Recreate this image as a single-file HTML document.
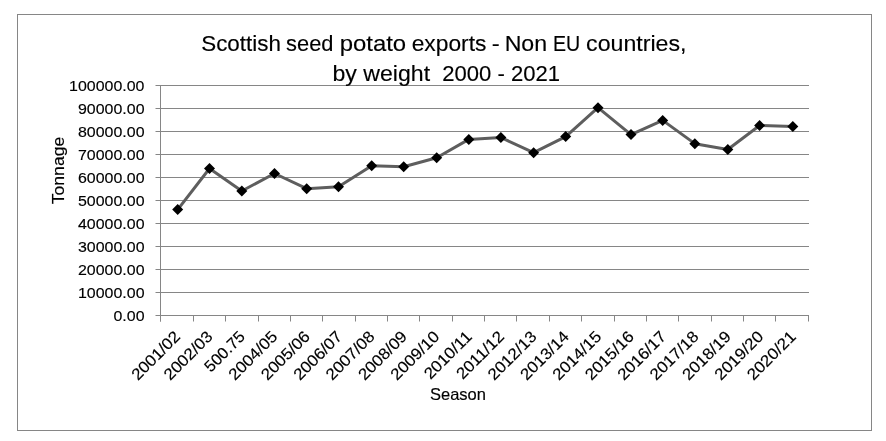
<!DOCTYPE html><html><head><meta charset="utf-8"><style>html,body{margin:0;padding:0;background:#fff;}svg{display:block;will-change:transform;}text{font-family:"Liberation Sans",sans-serif;fill:#000;stroke:#000;stroke-width:0.15px;}</style></head><body>
<svg width="886" height="441" viewBox="0 0 886 441">
<rect x="0" y="0" width="886" height="441" fill="#fff"/>
<rect x="17.5" y="14.5" width="854" height="416" fill="none" stroke="#868686" stroke-width="1"/>
<path d="M155.5 85.5H809 M155.5 108.5H809 M155.5 131.5H809 M155.5 154.5H809 M155.5 177.5H809 M155.5 200.5H809 M155.5 223.5H809 M155.5 246.5H809 M155.5 269.5H809 M155.5 292.5H809 M155.5 315.5H809 M160.5 85V321.5 M160.5 315V321.5 M193.5 315V321.5 M225.5 315V321.5 M258.5 315V321.5 M290.5 315V321.5 M322.5 315V321.5 M355.5 315V321.5 M387.5 315V321.5 M419.5 315V321.5 M452.5 315V321.5 M484.5 315V321.5 M516.5 315V321.5 M549.5 315V321.5 M581.5 315V321.5 M614.5 315V321.5 M646.5 315V321.5 M678.5 315V321.5 M711.5 315V321.5 M743.5 315V321.5 M775.5 315V321.5 M808.5 315V321.5" stroke="#868686" stroke-width="1" fill="none"/>
<text transform="translate(144.5 91.3) scale(1.03 1)" font-size="15.5" text-anchor="end">100000.00</text>
<text transform="translate(144.5 114.3) scale(1.03 1)" font-size="15.5" text-anchor="end">90000.00</text>
<text transform="translate(144.5 137.3) scale(1.03 1)" font-size="15.5" text-anchor="end">80000.00</text>
<text transform="translate(144.5 160.3) scale(1.03 1)" font-size="15.5" text-anchor="end">70000.00</text>
<text transform="translate(144.5 183.3) scale(1.03 1)" font-size="15.5" text-anchor="end">60000.00</text>
<text transform="translate(144.5 206.3) scale(1.03 1)" font-size="15.5" text-anchor="end">50000.00</text>
<text transform="translate(144.5 229.3) scale(1.03 1)" font-size="15.5" text-anchor="end">40000.00</text>
<text transform="translate(144.5 252.3) scale(1.03 1)" font-size="15.5" text-anchor="end">30000.00</text>
<text transform="translate(144.5 275.3) scale(1.03 1)" font-size="15.5" text-anchor="end">20000.00</text>
<text transform="translate(144.5 298.3) scale(1.03 1)" font-size="15.5" text-anchor="end">10000.00</text>
<text transform="translate(144.5 321.3) scale(1.03 1)" font-size="15.5" text-anchor="end">0.00</text>
<text transform="translate(201.2 50.5) scale(1.0 1)" font-size="22.4" stroke-width="0">Scottish</text>
<text transform="translate(286.12 50.5) scale(0.976 1)" font-size="22.4" stroke-width="0">seed</text>
<text transform="translate(339.73 50.5) scale(1.067 1)" font-size="22.4" stroke-width="0">potato</text>
<text transform="translate(411.68 50.5) scale(1.018 1)" font-size="22.4" stroke-width="0">exports</text>
<text transform="translate(491.83 50.5) scale(1.067 1)" font-size="22.4" stroke-width="0">-</text>
<text transform="translate(504.63 50.5) scale(1.034 1)" font-size="22.4" stroke-width="0">Non</text>
<text transform="translate(552.95 50.5) scale(0.875 1)" font-size="22.4" stroke-width="0">EU</text>
<text transform="translate(586.07 50.5) scale(1.034 1)" font-size="22.4" stroke-width="0">countries,</text>
<text transform="translate(332.5 80.8) scale(1.032 1)" font-size="22.4" stroke-width="0">by weight</text>
<text transform="translate(560 80.8) scale(0.985 1)" font-size="22.4" stroke-width="0" text-anchor="end">2000 - 2021</text>
<text x="458" y="399.7" font-size="16.5" text-anchor="middle">Season</text>
<text transform="translate(63.5 170.5) rotate(-90) scale(1.1 1)" font-size="16" text-anchor="middle">Tonnage</text>
<text transform="translate(181.20 337.7) rotate(-45) scale(1.06 1)" font-size="16" text-anchor="end">2001/02</text>
<text transform="translate(213.60 337.7) rotate(-45) scale(1.06 1)" font-size="16" text-anchor="end">2002/03</text>
<text transform="translate(246.00 337.7) rotate(-45) scale(1.02 1)" font-size="16" text-anchor="end">500.75</text>
<text transform="translate(278.40 337.7) rotate(-45) scale(1.06 1)" font-size="16" text-anchor="end">2004/05</text>
<text transform="translate(310.80 337.7) rotate(-45) scale(1.06 1)" font-size="16" text-anchor="end">2005/06</text>
<text transform="translate(343.20 337.7) rotate(-45) scale(1.06 1)" font-size="16" text-anchor="end">2006/07</text>
<text transform="translate(375.60 337.7) rotate(-45) scale(1.06 1)" font-size="16" text-anchor="end">2007/08</text>
<text transform="translate(408.00 337.7) rotate(-45) scale(1.06 1)" font-size="16" text-anchor="end">2008/09</text>
<text transform="translate(440.40 337.7) rotate(-45) scale(1.06 1)" font-size="16" text-anchor="end">2009/10</text>
<text transform="translate(472.80 337.7) rotate(-45) scale(1.06 1)" font-size="16" text-anchor="end">2010/11</text>
<text transform="translate(505.20 337.7) rotate(-45) scale(1.06 1)" font-size="16" text-anchor="end">2011/12</text>
<text transform="translate(537.60 337.7) rotate(-45) scale(1.06 1)" font-size="16" text-anchor="end">2012/13</text>
<text transform="translate(570.00 337.7) rotate(-45) scale(1.06 1)" font-size="16" text-anchor="end">2013/14</text>
<text transform="translate(602.40 337.7) rotate(-45) scale(1.06 1)" font-size="16" text-anchor="end">2014/15</text>
<text transform="translate(634.80 337.7) rotate(-45) scale(1.06 1)" font-size="16" text-anchor="end">2015/16</text>
<text transform="translate(667.20 337.7) rotate(-45) scale(1.06 1)" font-size="16" text-anchor="end">2016/17</text>
<text transform="translate(699.60 337.7) rotate(-45) scale(1.06 1)" font-size="16" text-anchor="end">2017/18</text>
<text transform="translate(732.00 337.7) rotate(-45) scale(1.06 1)" font-size="16" text-anchor="end">2018/19</text>
<text transform="translate(764.40 337.7) rotate(-45) scale(1.06 1)" font-size="16" text-anchor="end">2019/20</text>
<text transform="translate(796.80 337.7) rotate(-45) scale(1.06 1)" font-size="16" text-anchor="end">2020/21</text>
<path d="M177.70 209.60 L209.50 168.50 L241.80 191.00 L274.50 173.50 L306.70 188.70 L338.50 186.80 L371.70 165.75 L403.70 166.80 L436.70 157.80 L468.80 139.40 L500.90 137.50 L533.60 152.70 L565.70 136.60 L598.00 107.70 L631.00 134.60 L662.70 120.40 L694.80 143.65 L727.80 149.50 L759.60 125.50 L792.80 126.60" stroke="#5e5e5e" stroke-width="3" fill="none" stroke-linejoin="round"/>
<path d="M177.70 204.10L183.20 209.60L177.70 215.10L172.20 209.60Z" fill="#000"/>
<path d="M209.50 163.00L215.00 168.50L209.50 174.00L204.00 168.50Z" fill="#000"/>
<path d="M241.80 185.50L247.30 191.00L241.80 196.50L236.30 191.00Z" fill="#000"/>
<path d="M274.50 168.00L280.00 173.50L274.50 179.00L269.00 173.50Z" fill="#000"/>
<path d="M306.70 183.20L312.20 188.70L306.70 194.20L301.20 188.70Z" fill="#000"/>
<path d="M338.50 181.30L344.00 186.80L338.50 192.30L333.00 186.80Z" fill="#000"/>
<path d="M371.70 160.25L377.20 165.75L371.70 171.25L366.20 165.75Z" fill="#000"/>
<path d="M403.70 161.30L409.20 166.80L403.70 172.30L398.20 166.80Z" fill="#000"/>
<path d="M436.70 152.30L442.20 157.80L436.70 163.30L431.20 157.80Z" fill="#000"/>
<path d="M468.80 133.90L474.30 139.40L468.80 144.90L463.30 139.40Z" fill="#000"/>
<path d="M500.90 132.00L506.40 137.50L500.90 143.00L495.40 137.50Z" fill="#000"/>
<path d="M533.60 147.20L539.10 152.70L533.60 158.20L528.10 152.70Z" fill="#000"/>
<path d="M565.70 131.10L571.20 136.60L565.70 142.10L560.20 136.60Z" fill="#000"/>
<path d="M598.00 102.20L603.50 107.70L598.00 113.20L592.50 107.70Z" fill="#000"/>
<path d="M631.00 129.10L636.50 134.60L631.00 140.10L625.50 134.60Z" fill="#000"/>
<path d="M662.70 114.90L668.20 120.40L662.70 125.90L657.20 120.40Z" fill="#000"/>
<path d="M694.80 138.15L700.30 143.65L694.80 149.15L689.30 143.65Z" fill="#000"/>
<path d="M727.80 144.00L733.30 149.50L727.80 155.00L722.30 149.50Z" fill="#000"/>
<path d="M759.60 120.00L765.10 125.50L759.60 131.00L754.10 125.50Z" fill="#000"/>
<path d="M792.80 121.10L798.30 126.60L792.80 132.10L787.30 126.60Z" fill="#000"/>
</svg></body></html>
